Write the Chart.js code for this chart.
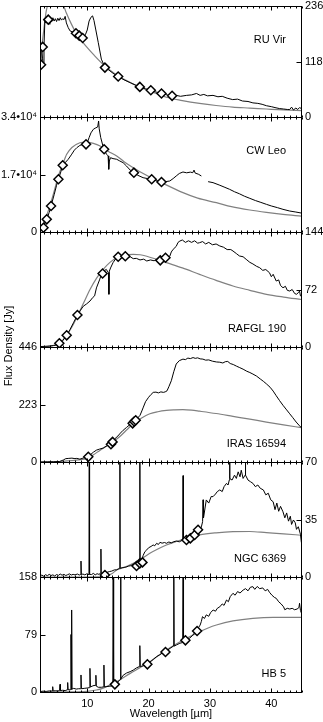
<!DOCTYPE html>
<html>
<head>
<meta charset="utf-8">
<title>Spectral energy distributions</title>
<script src="https://cdn.jsdelivr.net/npm/chart.js@4.4.1/dist/chart.umd.min.js"></script>
<style>
    body { margin: 0; background: #fff; }
    #stack { position: relative; width: 323px; height: 722px; }
    #stack canvas { position: absolute; left: 0; top: 0; }
</style>
</head>
<body>
<div id="stack"></div>
<script>
// Data (wavelength in micron, flux density in Jy)
const xMin = 2.3;
const xMax = 45;
const xTickValues = [10, 20, 30, 40];
const xTickLabels = ["10", "20", "30", "40"];

const panelNames = ["RU Vir", "CW Leo", "RAFGL 190", "IRAS 16594", "NGC 6369", "HB 5"];
const yMax = [236, 34000, 144, 446, 70, 158];
const yTickLabels = [
    ["0", "118", "236"],
    ["0", "1.7•10⁴", "3.4•10⁴"],
    ["0", "72", "144"],
    ["0", "223", "446"],
    ["0", "35", "70"],
    ["0", "79", "158"],
];

// RU Vir
const ruVirSpectrum = [[2.3,108],[2.45,140],[2.57,150],[2.7,125],[2.84,111],[2.95,150],[3.1,207],[3.25,200],[3.4,210],[3.6,206],[3.75,200],[3.9,197],[4.05,208],[4.2,203],[4.4,211],[4.6,204],[4.8,209],[5.0,203],[5.2,210],[5.4,205],[5.6,211],[5.8,206],[6.0,209],[6.2,207],[6.4,214],[6.6,200],[6.9,190],[7.2,183],[7.6,181],[8.0,178],[8.4,176],[8.8,172],[9.1,170],[9.35,168],[9.7,175],[10.0,185],[10.3,204],[10.6,212],[10.87,215],[11.1,205],[11.4,185],[11.8,158],[12.3,123],[12.88,106],[13.5,100],[14.2,93],[15.04,86],[16.0,79],[17.0,73],[18.0,67],[18.57,64],[19.5,60],[20.36,57],[21.2,53],[22.1,51],[23.0,47],[23.83,45],[24.5,46],[25.2,44],[26.2,46],[27.0,47],[27.8,50],[28.4,46],[29.0,48],[29.6,45],[30.5,46],[31.3,43],[32.0,44],[32.8,40],[33.7,37],[34.5,38],[35.3,34],[36.2,33],[37.0,30],[37.8,29],[38.5,27],[39.2,24],[40.0,22],[40.6,20],[41.3,18],[42.0,17],[42.6,16],[43.0,16],[43.3,21],[43.6,15],[44.0,19],[44.3,16],[44.6,20],[44.9,18]];
const ruVirModel = [[2.3,105],[2.6,150],[2.84,177],[3.1,205],[3.3,224],[3.6,240],[4.0,252],[4.5,258],[5.0,256],[5.5,250],[6.1,238],[6.6,221],[7.4,198],[8.3,176],[9.1,162],[9.9,149],[11.0,133],[12.9,108],[14.5,92],[16.0,80],[17.45,70.5],[19.0,61],[20.5,54],[22.9,42],[25.5,35],[28.3,29],[31.0,24.5],[33.7,21],[36.5,19],[39.2,17],[42.0,15],[45.0,13.5]];
const ruVirPhot = [[2.47,111],[2.74,149],[3.65,207],[8.16,178],[8.7,173],[9.25,168],[12.88,105],[15.04,86],[18.57,64],[20.36,57],[22.1,50],[23.83,45]];

// CW Leo
const cwLeoSpectrum = [[2.45,1270],[2.9,2000],[3.4,3750],[3.8,5800],[4.1,7690],[4.6,11000],[5.0,13800],[5.3,15580],[5.7,17800],[6.0,19720],[6.4,20500],[6.9,21500],[7.4,22800],[7.9,24200],[8.3,24930],[8.8,25600],[9.3,25900],[9.8,26110],[10.1,26900],[10.3,27890],[10.6,29300],[11.0,30370],[11.3,30700],[11.7,31050],[11.85,32820],[11.95,30500],[12.2,27890],[12.7,24450],[13.15,22980],[13.4,22500],[13.5,18540],[13.6,21000],[13.8,21970],[14.2,21700],[14.8,21500],[15.3,21000],[15.85,20490],[16.4,19500],[17.0,18300],[17.5,17540],[18.2,16800],[19.1,16060],[19.8,15800],[20.5,15580],[21.3,15100],[22.1,14790],[22.8,14900],[23.45,15080],[24.0,15800],[24.5,16560],[25.0,17300],[25.6,17740],[26.2,17500],[26.8,17700],[27.2,17540],[27.4,18300],[27.6,17400],[28.1,17100],[28.6,16560],[29.15,null],[29.7,14880],[30.5,14590],[31.5,13900],[32.3,13300],[33.2,12620],[34.0,11900],[34.8,11300],[35.6,10600],[36.5,9950],[37.4,9300],[38.3,8750],[39.2,8180],[40.0,7700],[41.0,7200],[41.9,6700],[43.0,6200],[44.0,5900],[44.9,5600]];
const cwLeoModel = [[2.45,1270],[3.0,3000],[3.9,7690],[4.6,12000],[5.3,16560],[6.0,20000],[6.65,22980],[7.5,25000],[8.8,26400],[9.8,26600],[11.0,26200],[12.1,25430],[13.4,23900],[14.8,22470],[16.0,20800],[17.5,19010],[19.5,16900],[22.1,14590],[25.6,11630],[28.0,10000],[31.05,8670],[33.5,7500],[36.5,6500],[39.2,5800],[41.9,5220],[44.9,4700]];
const cwLeoPhot = [[2.87,1270],[3.4,3750],[4.1,7690],[5.3,15580],[6.0,19720],[9.8,25920],[12.75,24450],[17.6,17540],[20.5,15580],[22.1,14790]];

// RAFGL 190
const rafgl190Spectrum = [[2.3,0.5],[3.0,0.8],[3.8,1.2],[4.5,1.8],[5.0,2.5],[5.45,3.5],[6.0,8],[6.65,14.6],[7.2,22],[7.8,31],[8.4,40],[8.9,46],[9.35,51],[9.9,54],[10.45,57.6],[10.9,62],[11.2,64],[11.5,74],[12.0,84],[12.35,91.8],[12.7,95],[13.1,97.2],[13.45,93],[13.53,66],[13.6,95],[13.8,99],[14.2,105.6],[14.6,110],[15.0,113],[15.5,114],[16.1,113.6],[16.6,112],[17.0,113],[17.5,110.6],[18.0,111],[18.6,109],[19.2,110],[19.7,107.7],[20.3,109],[20.9,108],[21.4,110],[21.9,108.3],[22.3,110],[22.75,111.8],[23.1,113],[23.45,113.6],[23.7,119],[24.0,122.3],[24.5,126],[24.8,131],[25.1,132.7],[25.5,134],[26.0,131],[26.5,133],[27.0,131],[27.5,133],[28.0,130],[28.3,130.6],[28.8,132],[29.3,129],[29.8,131],[30.4,128],[31.0,129],[31.6,126.5],[32.2,125],[32.8,122],[33.4,122],[33.75,120.2],[34.3,117],[34.8,114],[35.4,113],[35.9,109.8],[36.5,106],[37.0,104],[37.6,101],[38.1,99.3],[38.6,96],[39.1,97],[39.7,93],[40.0,88],[40.3,91],[40.8,82.6],[41.2,84],[41.5,77],[41.9,74.2],[42.3,76],[42.6,71],[43.0,70.1],[43.4,72],[43.8,67],[44.1,66],[44.4,68],[44.6,70],[44.75,64],[44.9,65]];
const rafgl190Model = [[2.3,0],[3.5,0.5],[4.5,2],[5.5,5],[6.5,13],[7.5,25],[8.4,38.8],[9.4,55],[10.45,72],[11.5,86],[12.6,97.2],[13.7,106],[14.8,111.8],[16.0,115],[17.5,116],[18.6,115.5],[19.7,113.6],[21.2,110],[22.9,105.6],[25.5,99],[28.3,91],[31.0,83.5],[33.75,76.4],[36.5,71],[39.2,66],[42.0,62.5],[44.9,59.5]];
const rafgl190Phot = [[5.45,4.6],[6.65,14.6],[8.4,40],[12.5,92],[15.04,113],[16.2,113.6],[21.9,108.5],[22.75,111.8]];

// IRAS 16594
const iras16594Spectrum = [[2.3,0],[3.5,0.5],[4.5,1],[5.5,2],[6.1,7.7],[6.5,13],[7.0,14],[7.5,15],[8.0,13],[8.3,14],[8.8,11],[9.3,15],[10.0,20.5],[10.5,28],[11.0,38],[11.5,46],[12.0,50],[12.6,54],[13.2,63],[13.6,70],[14.0,78],[14.5,90],[15.0,101],[15.4,112],[15.85,123],[16.4,134],[17.0,146],[17.4,154],[17.75,161],[18.2,170],[18.6,181],[18.9,198],[19.15,213],[19.5,234],[20.0,251],[20.4,262],[20.75,270],[21.2,271],[21.6,268],[22.0,272],[22.4,270],[22.7,272],[23.0,276],[23.3,292],[23.7,315],[24.1,350],[24.5,380],[25.0,393],[25.6,399],[26.0,397],[26.4,403],[26.8,401],[27.25,405],[27.6,402],[28.0,404],[28.4,400],[28.85,399],[29.3,395],[29.8,396],[30.4,391],[31.05,388],[31.6,387],[32.1,384],[32.5,389],[32.9,390],[33.3,382],[33.8,378],[34.3,372],[34.85,366],[35.4,360],[36.0,352],[36.5,347],[37.0,341],[37.6,333],[38.2,322],[38.7,313],[39.2,303],[39.8,290],[40.3,275],[40.8,257],[41.35,238],[41.9,220],[42.5,202],[43.0,187],[43.5,172],[44.05,155],[44.5,143],[44.9,133]];
const iras16594Model = [[2.3,0],[5.0,1],[6.7,4],[8.5,8],[10.0,14],[11.0,28],[12.1,46],[13.2,62],[14.2,78],[15.5,103],[16.5,126],[17.5,149],[18.8,170],[20.2,187],[21.5,195],[22.9,200],[24.2,202],[25.6,203],[27.0,201],[28.3,197],[31.0,188],[33.75,177],[36.5,166],[39.2,155],[42.0,144],[44.9,133]];
const iras16594Phot = [[10.17,20],[13.86,69],[14.13,78],[17.4,150],[17.65,157],[17.9,162]];

// NGC 6369
const ngc6369Spectrum = [[2.3,0.3],[2.6,1.2],[2.9,0.5],[3.2,1.4],[3.5,0.8],[3.8,1.6],[4.1,0.9],[4.4,1.3],[4.7,0.6],[5.0,1.5],[5.3,1.0],[5.6,1.8],[5.9,1.1],[6.2,1.6],[6.5,0.9],[6.8,1.4],[7.1,1.9],[7.4,1.2],[7.7,1.6],[8.0,1.3],[8.4,1.8],[8.7,1.2],[8.92,1.5],[8.98,9.7],[9.04,1.5],[9.3,1.8],[9.6,1.3],[9.9,1.9],[10.1,1.4],[10.28,1.6],[10.33,90],[10.38,1.6],[10.7,1.5],[11.0,2.2],[11.3,1.3],[11.6,2.0],[11.9,1.6],[12.18,2.3],[12.23,17],[12.28,2.0],[12.6,2.4],[12.9,1.5],[13.2,2.8],[13.6,3.3],[14.0,3.6],[14.4,4.3],[14.8,4.4],[15.1,5.0],[15.27,5.3],[15.32,90],[15.37,5.3],[15.8,5.8],[16.3,6.0],[16.7,6.6],[17.1,6.9],[17.5,7.7],[17.9,8.2],[18.2,8.9],[18.52,9.5],[18.57,90],[18.62,9.7],[18.84,9.7],[19.1,13],[19.39,15.4],[19.7,16.5],[20.0,17.8],[20.4,18.6],[20.74,19.5],[21.0,19.0],[21.3,20.5],[21.6,19.8],[21.85,21.1],[22.2,20.6],[22.6,21.0],[22.9,20.5],[23.3,21.3],[23.7,20.8],[24.1,21.5],[24.55,21.9],[25.0,21.4],[25.3,22.0],[25.57,22.3],[25.62,61.7],[25.67,22.3],[26.17,22.5],[26.8,23.5],[27.2,24.8],[27.5,26.6],[28.06,27.5],[28.4,28.6],[28.6,30.5],[28.8,33.7],[28.87,47],[28.95,36],[29.4,46.9],[29.8,45],[30.2,49],[30.5,48.9],[30.9,50.5],[31.2,52],[31.6,53],[32.0,52],[32.3,55],[32.7,57],[32.95,56],[33.15,59],[33.2,90],[33.25,60],[33.6,59],[34.0,62],[34.3,60],[34.6,64],[34.9,61],[35.1,65],[35.4,60],[35.72,62],[35.77,90],[35.82,62],[36.2,59],[36.6,58],[37.0,57],[37.4,55],[37.8,56],[38.2,54],[38.7,53],[39.1,50],[39.5,51],[39.9,47],[40.3,45.8],[40.6,41],[40.9,45],[41.2,40],[41.5,43],[41.9,39.7],[42.2,36],[42.5,39],[42.8,34],[43.1,37],[43.3,32],[43.6,34.7],[43.9,33],[44.1,29],[44.4,30.6],[44.6,28],[44.75,26],[44.9,21]];
const ngc6369Model = [[2.3,0],[8.0,0],[12.0,0.1],[13.1,0.8],[14.0,2.0],[14.8,4.3],[16.0,5.8],[17.5,8.3],[18.8,11],[20.2,14.4],[21.5,17],[22.9,19.5],[24.5,21.6],[26.2,23.5],[28.3,25.6],[31.0,26.9],[33.75,27.6],[36.5,27.7],[39.2,27],[42.0,26.3],[44.9,25.4]];
const ngc6369Phot = [[12.88,1.2],[18.03,6.7],[18.57,8.3],[19.0,8.9],[26.17,22.5],[26.8,23.5],[27.5,25.6],[28.06,28.8]];

// HB 5
const hb5Spectrum = [[2.3,0.5],[2.8,1.2],[3.3,0.8],[3.8,1.5],[4.3,1.3],[4.37,7.3],[4.44,1.4],[4.8,1.8],[5.2,1.4],[5.49,2.0],[5.56,10.5],[5.63,2.0],[6.0,2.4],[6.4,1.9],[6.74,3],[6.81,13],[6.88,3],[7.1,3.5],[7.3,3.2],[7.35,79],[7.4,3.5],[7.46,112.7],[7.52,4],[7.8,5],[8.2,4],[8.6,4.5],[8.91,4.5],[8.98,23.4],[9.05,4.5],[9.5,5],[10.0,5.5],[10.37,6],[10.44,32.5],[10.51,7],[10.8,8],[11.1,9],[11.34,9],[11.41,23],[11.48,8],[11.8,6.5],[12.3,6.5],[12.65,7],[12.72,37],[12.79,7],[13.2,7.5],[13.7,8],[14.16,8.5],[14.23,200],[14.3,9],[14.5,10.5],[14.9,13],[15.36,17],[15.43,200],[15.5,18],[15.86,23],[16.4,26],[17.0,28],[17.48,30],[18.0,33],[18.5,35],[18.57,63.7],[18.64,35],[19.1,36],[19.65,38],[20.2,41],[20.8,45],[21.28,48.5],[21.8,51],[22.3,54],[22.9,56.3],[23.5,60],[24.03,63],[24.1,200],[24.17,63],[24.53,64.6],[25.1,67],[25.55,68],[25.62,200],[25.69,69],[26.16,71.4],[26.7,74],[27.2,78],[27.8,85.2],[28.1,88],[28.4,92],[28.6,97],[28.78,103.5],[29.1,101],[29.4,106],[29.8,104],[30.1,109],[30.52,112.7],[30.9,111],[31.2,115],[31.6,117],[32.0,121],[32.3,119],[32.7,126.4],[33.0,124],[33.3,131],[33.75,135.6],[34.1,133],[34.5,138],[34.9,136],[35.4,140],[35.8,142],[36.2,139],[36.6,144],[37.0,144.7],[37.3,141],[37.7,145],[38.1,142],[38.6,143],[39.0,139],[39.4,141],[39.7,137],[40.1,133],[40.5,130],[40.8,128.7],[41.2,124],[41.6,121],[42.0,117],[42.2,113],[42.6,115],[43.0,114],[43.4,115],[43.8,113],[44.2,114],[44.5,116],[44.6,121.9],[44.75,112],[44.9,108.6]];
const hb5Model = [[2.3,0],[8.0,0.3],[10.0,0.8],[11.5,2.7],[12.5,5],[13.7,9.6],[15.0,15],[17.0,25.6],[18.6,33.5],[20.2,41.7],[21.5,49.5],[22.9,57.7],[24.5,66],[26.2,73.8],[28.35,82.9],[29.7,88],[31.05,92],[33.75,97.6],[37.0,101.2],[40.3,102.6],[44.9,102.6]];
const hb5Phot = [[14.5,10.5],[19.8,38],[22.75,55],[26.0,71],[27.9,83.8]];

const spectra = [ruVirSpectrum, cwLeoSpectrum, rafgl190Spectrum, iras16594Spectrum, ngc6369Spectrum, hb5Spectrum];
const models = [ruVirModel, cwLeoModel, rafgl190Model, iras16594Model, ngc6369Model, hb5Model];
const photometry = [ruVirPhot, cwLeoPhot, rafgl190Phot, iras16594Phot, ngc6369Phot, hb5Phot];

// Layout
const FONT = { family: '"Liberation Sans", Arial, Helvetica, sans-serif', size: 11 };
const FONT_CSS = '11px "Liberation Sans", Arial, Helvetica, sans-serif';
const PANEL_TOP = 2;
const PANEL_H = 115;
const CANVAS_H = 722;
const X_AXIS_H = 30;

const toXY = function (pairs) {
    return pairs.map(function (p) {
        return { x: p[0], y: p[1] };
    });
};

// frame, inward ticks, panel names, y title
const framePlugin = {
    id: "frame",
    afterDatasetsDraw(chart, args, opts) {
        const { ctx, chartArea: a } = chart;
        const x = chart.scales.x;
        const y = chart.scales.y;
        const L = Math.round(a.left) + 0.5;
        const R = Math.round(a.right) - 0.5;
        const T = Math.round(a.top) + 0.5;
        const B = Math.round(a.bottom) + 0.5;
        ctx.save();
        ctx.strokeStyle = "#000";
        ctx.lineWidth = 1;
        ctx.strokeRect(L, T, R - L, B - T);

        ctx.beginPath();
        for (let v = Math.ceil(x.min); v <= x.max; v++) {
            const px = Math.round(x.getPixelForValue(v)) + 0.5;
            const len = v % 10 === 0 ? 4 : 2;
            ctx.moveTo(px, T);
            ctx.lineTo(px, T + len);
            ctx.moveTo(px, B);
            ctx.lineTo(px, B - len);
        }
        const py = Math.round(y.getPixelForValue(y.max / 2)) + 0.5;
        if (opts.labelsLeft) {
            ctx.moveTo(L, py);
            ctx.lineTo(L + 5, py);
        } else {
            ctx.moveTo(R, py);
            ctx.lineTo(R - 5, py);
        }
        ctx.stroke();

        ctx.fillStyle = "#000";
        ctx.font = FONT_CSS;
        ctx.textAlign = "right";
        ctx.textBaseline = "middle";
        ctx.fillText(opts.name, 286, opts.nameTop ? a.top + 34 : a.top + 97);

        if (opts.yTitle) {
            ctx.translate(9, 346);
            ctx.rotate(-Math.PI / 2);
            ctx.textAlign = "center";
            ctx.fillText(opts.yTitle, 0, 0);
        }
        ctx.restore();
    },
};

const stack = document.getElementById("stack");

panelNames.forEach(function (name, i) {
    const canvas = document.createElement("canvas");
    canvas.width = 323;
    canvas.height = CANVAS_H;
    stack.appendChild(canvas);

    const top = PANEL_TOP + PANEL_H * i;
    const last = i === panelNames.length - 1;
    const labelsLeft = i % 2 === 1;
    const max = yMax[i];
    const yTicks = [0, max / 2, max];

    const yScale = function (side, width, showLabels) {
        return {
            type: "linear",
            position: side,
            min: 0,
            max: max,
            grid: { display: false, drawTicks: false },
            border: { display: false },
            afterBuildTicks: function (s) {
                s.ticks = yTicks.map(function (v) {
                    return { value: v };
                });
            },
            ticks: {
                display: showLabels,
                autoSkip: false,
                color: "#000",
                font: FONT,
                padding: 3,
                callback: function (v, idx) {
                    return yTickLabels[i][idx];
                },
            },
            afterFit: function (s) {
                s.width = width;
                s.paddingTop = 0;
                s.paddingBottom = 0;
            },
        };
    };

    new Chart(canvas, {
        type: "line",
        data: {
            datasets: [
                {
                    data: toXY(photometry[i]),
                    showLine: false,
                    pointStyle: "rectRot",
                    pointRadius: 4.5,
                    pointBorderWidth: 1.5,
                    pointBorderColor: "#000",
                    pointBackgroundColor: "#fff",
                    order: 0,
                },
                {
                    data: toXY(spectra[i]),
                    borderColor: "#000",
                    borderWidth: 1,
                    pointRadius: 0,
                    spanGaps: false,
                    order: 1,
                },
                {
                    data: toXY(models[i]),
                    borderColor: "#808080",
                    borderWidth: 1.2,
                    pointRadius: 0,
                    cubicInterpolationMode: "monotone",
                    order: 2,
                },
            ],
        },
        options: {
            responsive: false,
            animation: false,
            events: [],
            layout: {
                padding: {
                    top: top,
                    bottom: last ? 0 : CANVAS_H - top - PANEL_H,
                    left: 0,
                    right: 0,
                },
            },
            plugins: {
                legend: { display: false },
                tooltip: { enabled: false },
                frame: {
                    name: name,
                    labelsLeft: labelsLeft,
                    nameTop: i < 2,
                    yTitle: i === 0 ? "Flux Density [Jy]" : null,
                },
            },
            scales: {
                x: {
                    type: "linear",
                    min: xMin,
                    max: xMax,
                    display: last,
                    grid: { display: false, drawTicks: false },
                    border: { display: false },
                    afterBuildTicks: function (s) {
                        s.ticks = xTickValues.map(function (v) {
                            return { value: v };
                        });
                    },
                    ticks: {
                        autoSkip: false,
                        maxRotation: 0,
                        color: "#000",
                        font: FONT,
                        padding: 5,
                        callback: function (v, idx) {
                            return xTickLabels[idx];
                        },
                    },
                    title: {
                        display: true,
                        text: "Wavelength [µm]",
                        color: "#000",
                        font: FONT,
                        padding: { top: 0, bottom: 1 },
                    },
                    afterFit: function (s) {
                        s.height = last ? X_AXIS_H : 0;
                        s.paddingLeft = 0;
                        s.paddingRight = 0;
                    },
                },
                y: yScale("left", 40, labelsLeft),
                y2: yScale("right", 21, !labelsLeft),
            },
        },
        plugins: [framePlugin],
    });
});
</script>
</body>
</html>
